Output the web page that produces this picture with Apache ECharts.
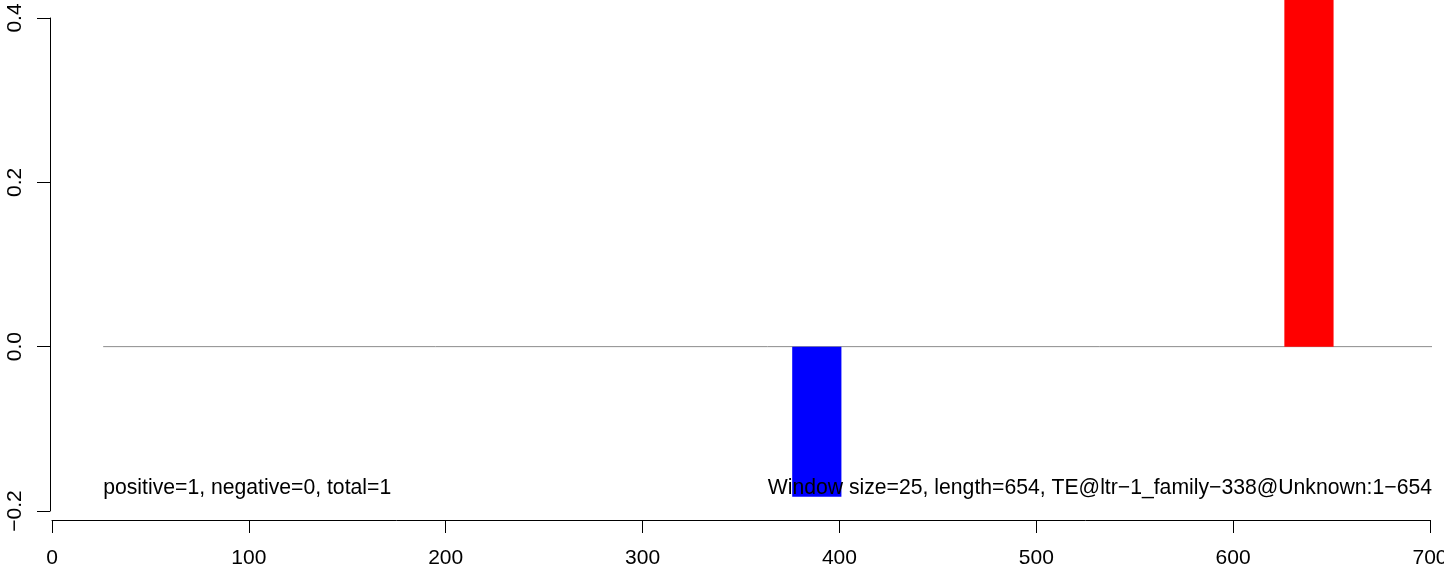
<!DOCTYPE html>
<html><head><meta charset="utf-8">
<script src="https://cdn.jsdelivr.net/npm/echarts@6/dist/echarts.min.js"></script>
<style>html,body{margin:0;padding:0;background:#fff}#c{width:1444px;height:566px}</style>
</head><body><div id="c"></div>
<script>
// ---- data ----
const windowStart = [376, 626];
const windowEnd = [401, 651];
const windowScore = [-0.1826, 0.5];
const baselineX = [26, 701];
const baselineY = [0, 0];
const xTicks = [0, 100, 200, 300, 400, 500, 600, 700];
const xTickLabels = ['0', '100', '200', '300', '400', '500', '600', '700'];
const yTicks = [-0.2, 0.0, 0.2, 0.4];
const yTickLabels = ['\u22120.2', '0.0', '0.2', '0.4'];
const noteText = ['positive=1, negative=0, total=1', 'Window size=25, length=654, TE@ltr\u22121_family\u2212338@Unknown:1\u2212654'];
const noteX = [26, 701];
const noteY = [-0.1826, -0.1826];

// ---- chart ----
const FONT = "'Liberation Sans', Arial, sans-serif";
const chart = echarts.init(document.getElementById('c'), null, {renderer: 'canvas'});

const barData = windowStart.map((s, i) => [s, windowEnd[i], windowScore[i]]);
const lineData = baselineX.map((x, i) => [x, baselineY[i]]);
const noteData = noteX.map((x, i) => [x, noteY[i], noteText[i]]);

function labelFor(ticks, labels) {
  return v => {
    for (let i = 0; i < ticks.length; i++) if (Math.abs(ticks[i] - v) < 1e-9) return labels[i];
    return '';
  };
}

const option = {
  animation: false,
  backgroundColor: '#ffffff',
  grid: [
    {left: 52, right: 12, top: 0, height: 520, containLabel: false, outerBoundsMode: 'none'},
    {left: 50, top: 18, height: 493, width: 10, containLabel: false, outerBoundsMode: 'none'},
    {left: 52, width: 1378, top: 510, height: 10, containLabel: false, outerBoundsMode: 'none'}
  ],
  xAxis: [
    {gridIndex: 0, type: 'value', min: 0, max: 701, show: false},
    {gridIndex: 1, type: 'value', min: 0, max: 1, show: false},
    {gridIndex: 2, type: 'value', min: xTicks[0], max: xTicks[xTicks.length - 1], interval: 100,
      axisLine: {show: true, lineStyle: {color: '#000', width: 1}},
      axisTick: {show: true, length: 13, lineStyle: {color: '#000', width: 1}},
      axisLabel: {show: true, color: '#000', fontSize: 21, fontFamily: FONT, margin: 28,
        formatter: labelFor(xTicks, xTickLabels), showMinLabel: true, showMaxLabel: true},
      splitLine: {show: false}}
  ],
  yAxis: [
    {gridIndex: 0, type: 'value', min: -0.211, max: 0.4219, show: false},
    {gridIndex: 1, type: 'value', min: yTicks[0], max: yTicks[yTicks.length - 1], interval: 0.2,
      axisLine: {show: true, lineStyle: {color: '#000', width: 1}},
      axisTick: {show: true, length: 13, lineStyle: {color: '#000', width: 1}},
      axisLabel: {show: true, rotate: 90, color: '#000', fontSize: 21, fontFamily: FONT, margin: 24,
        formatter: labelFor(yTicks, yTickLabels), showMinLabel: true, showMaxLabel: true},
      splitLine: {show: false}},
    {gridIndex: 2, type: 'value', min: 0, max: 1, show: false}
  ],
  series: [
    {
      type: 'line', xAxisIndex: 0, yAxisIndex: 0, data: lineData,
      symbol: 'none', silent: true, z: 2,
      lineStyle: {color: '#8c8c8c', width: 1}
    },
    {
      type: 'custom', xAxisIndex: 0, yAxisIndex: 0, data: barData, z: 3, silent: true,
      renderItem: function (params, api) {
        const a = api.coord([api.value(0), 0]);
        const b = api.coord([api.value(1), api.value(2)]);
        const cs = params.coordSys;
        const shape = echarts.graphic.clipRectByRect(
          {x: a[0], y: Math.min(a[1], b[1]), width: b[0] - a[0], height: Math.abs(b[1] - a[1])},
          {x: cs.x, y: cs.y, width: cs.width, height: cs.height});
        if (!shape) return;
        return {type: 'rect', shape: shape,
          style: {fill: api.value(2) >= 0 ? '#ff0000' : '#0000ff'}};
      }
    },
    {
      type: 'custom', xAxisIndex: 0, yAxisIndex: 0, data: noteData, z: 5, silent: true,
      renderItem: function (params, api) {
        const p = api.coord([api.value(0), api.value(1)]);
        return {type: 'text', x: p[0], y: p[1] - 9,
          style: {text: noteText[params.dataIndex], fill: '#000', font: '21.2px ' + FONT,
            textAlign: params.dataIndex === 0 ? 'left' : 'right', textVerticalAlign: 'middle'}};
      }
    }
  ]
};
chart.setOption(option);
</script></body></html>
